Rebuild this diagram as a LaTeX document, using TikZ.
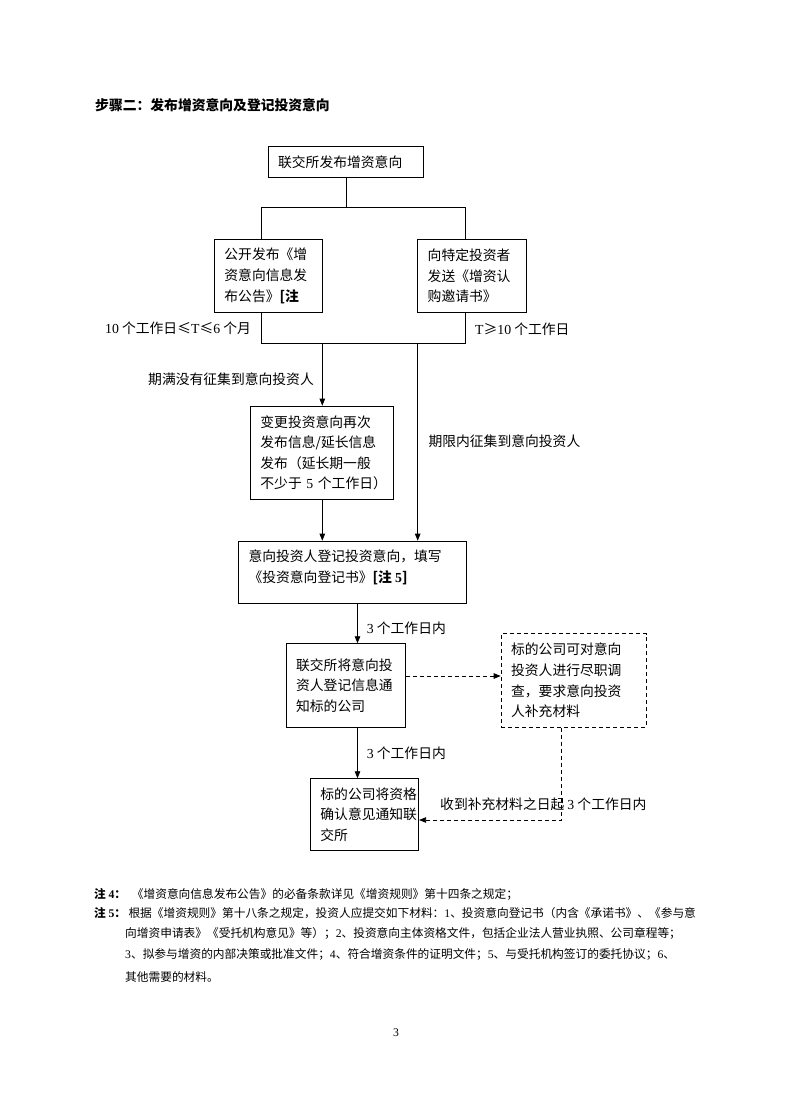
\documentclass[tikz,border=0pt]{standalone}
\usepackage{fontspec}
\setmainfont{Noto Sans CJK SC}
\newfontfamily\lat{Liberation Serif}
\newcommand\dg[1]{{\lat #1}}
\usetikzlibrary{arrows.meta}
\begin{document}
\begin{tikzpicture}[x=1pt,y=-1pt,
  every node/.style={inner sep=0pt},
  box/.style={draw, line width=0.8pt, anchor=north west, inner xsep=10pt, inner ysep=0pt,
    align=left, font=\fontsize{13.8}{20.6}\selectfont},
  dbox/.style={box, dash pattern=on 4pt off 3pt},
  lab/.style={anchor=west, font=\fontsize{13.8}{20.6}\selectfont},
  note/.style={anchor=west, font=\fontsize{11.7}{20.5}\selectfont},
  ln/.style={line width=0.8pt},
  arr/.style={ln, -{Triangle[length=7pt,width=5.5pt]}},
  darr/.style={arr, dash pattern=on 4pt off 3pt}]
\useasboundingbox (0,0) rectangle (792,1120);
\fill[white] (0,0) rectangle (792,1120);

\node[anchor=west, font=\fontsize{13.8}{16}\selectfont\bfseries] (title) at (95,105) {步骤二：发布增资意向及登记投资意向};

\node[box, text width=135.6pt, minimum height=31.6pt] (top) at (267.7,145.7) {联交所发布增资意向};
\node[box, text width=87.7pt, minimum height=72.4pt] (left) at (214,239.3) {公开发布《增\\资意向信息发\\布公告》{\bfseries [注}};
\node[box, text width=88.4pt, minimum height=72.4pt] (right) at (417.3,239.3) {向特定投资者\\发送《增资认\\购邀请书》};
\node[box, text width=123.3pt, minimum height=93.3pt] (change) at (250,405.7) {变更投资意向再次\\发布信息/延长信息\\发布（延长期一般\\\mbox{不少于~\dg{5}~个工作日）}};
\node[box, text width=208pt, minimum height=62pt] (register) at (237.7,540.7) {};
\node[lab] (reg1) at (248.3,556.7) {意向投资人登记投资意向，填写};
\node[lab] (reg2) at (248.3,577.3) {《投资意向登记书》{\bfseries [注~\dg{\bfseries 5}]}};
\node[box, text width=99.3pt, minimum height=83.4pt] (notify) at (285.7,643.3) {联交所将意向投\\资人登记信息通\\知标的公司};
\node[dbox, text width=125pt, minimum height=93.4pt] (dash) at (500.7,633.3) {标的公司可对意向\\投资人进行尽职调\\查，要求意向投资\\人补充材料};
\node[box, text width=88.3pt, minimum height=71.7pt] (confirm) at (310,778.3) {标的公司将资格\\确认意见通知联\\交所};

% connectors
\coordinate (jl) at (261.7,207.7);
\coordinate (jr) at (465.7,207.7);
\coordinate (bl) at (261.7,343.3);
\coordinate (br) at (465.7,343.3);
\coordinate (p1) at (322.3,343.3);
\coordinate (p2) at (417.7,343.3);
\coordinate (c3) at (357.5,0);
\coordinate (c4) at (0,676);
\coordinate (c5) at (561.7,820);

\draw[ln] (top.south) -- (top.south |- jl);
\draw[ln] (left.north -| jl) -- (jl) -- (jr) -- (right.north -| jr);
\draw[ln] (left.south -| bl) -- (bl) -- (br) -- (right.south -| br);
\draw[arr] (p1) -- (p1 |- change.north);
\draw[arr] (p2) -- (p2 |- register.north);
\draw[arr] (change.south -| p1) -- (p1 |- register.north);
\draw[arr] (register.south -| c3) -- (notify.north -| c3);
\draw[arr] (notify.south -| c3) -- (confirm.north -| c3);
\draw[darr] (notify.east |- c4) -- (dash.west |- c4);
\draw[darr] (dash.south -| c5) -- (c5) -- (confirm.east |- c5);

% labels
\node[lab] (l1) at (105,328) {\dg{10} 个工作日≤\dg{T}≤\dg{6} 个月};
\node[lab] (l2) at (475,329.3) {\dg{T}≥\dg{10} 个工作日};
\node[lab] (l3) at (148,379.3) {期满没有征集到意向投资人};
\node[lab] (l4) at (428.3,441.7) {期限内征集到意向投资人};
\node[lab] (l5) at (366.7,628.3) {\dg{3} 个工作日内};
\node[lab] (l6) at (366.7,753.3) {\dg{3} 个工作日内};
\node[lab] (l7) at (440,804) {收到补充材料之日起 \dg{3} 个工作日内};

% notes
\node[note, font=\fontsize{11.7}{14}\selectfont\bfseries] (n4h) at (94,894) {注 \dg{\bfseries 4}：};
\node[note] (n4) at (131.7,894) {《增资意向信息发布公告》的必备条款详见《增资规则》第十四条之规定；};
\node[note, font=\fontsize{11.7}{14}\selectfont\bfseries] (n5h) at (94,913.3) {注 \dg{\bfseries 5}：};
\node[note] (n5a) at (128.3,913.3) {根据《增资规则》第十八条之规定，投资人应提交如下材料：\dg{1}、投资意向登记书（内含《承诺书》、《参与意};
\node[note] (n5b) at (125,933.3) {向增资申请表》《受托机构意见》等）；\dg{2}、投资意向主体资格文件，包括企业法人营业执照、公司章程等；};
\node[note] (n5c) at (125,954.3) {\dg{3}、拟参与增资的内部决策或批准文件；\dg{4}、符合增资条件的证明文件；\dg{5}、与受托机构签订的委托协议；\dg{6}、};
\node[note] (n5d) at (125,976.7) {其他需要的材料。};

\node[font=\fontsize{11.7}{14}\selectfont\lat] (pg) at (396,1033) {3};
\end{tikzpicture}
\end{document}
